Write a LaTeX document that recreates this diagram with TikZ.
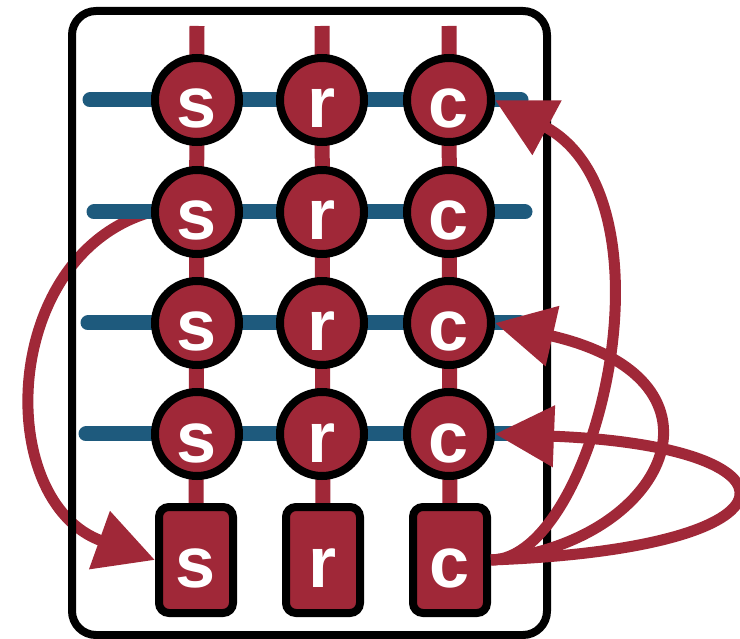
\documentclass[tikz,border=0pt]{standalone}
\usepackage{fontspec}
\setmainfont{Liberation Sans}
\usetikzlibrary{arrows.meta}
\definecolor{myred}{RGB}{160,40,56}
\definecolor{myblue}{RGB}{30,90,125}
\pgfdeclarelayer{bg}
\pgfsetlayers{bg,main}
\begin{document}
\begin{tikzpicture}[x=1pt,y=-1pt,
  letters/.style={text=white, font=\fontsize{72}{72}\selectfont\bfseries},
  cell/.style={circle, draw=black, line width=8pt, fill=myred, minimum size=84pt,
    inner sep=0pt, letters, text height=56pt, text depth=0pt},
  endbox/.style={rectangle, rounded corners=10pt, draw=black, line width=8pt, fill=myred,
    minimum width=74pt, minimum height=106pt, inner sep=0pt, letters,
    text height=54pt, text depth=0pt},
  wire/.style={myred, line width=15pt},
  bus/.style={myblue, line width=15pt, line cap=round},
  link/.style={myred, line width=11pt, -{Triangle[length=59pt,width=59pt]}},
  frame/.style={draw=black, line width=8pt, rounded corners=24pt}
]
\useasboundingbox (0,0) rectangle (740,639);
\draw[frame] (72,11) rectangle (547,635);

% nodes
\foreach \r/\y in {1/100,2/212,3/323,4/434}{
  \node[cell] (s\r) at (197,\y) {s};
  \node[cell] (r\r) at (322,\y) {r};
  \node[cell] (c\r) at (449,\y) {c};
}
\node[endbox] (sqs) at (196,560) {s};
\node[endbox] (sqr) at (323,560) {r};
\node[endbox] (sqc) at (450,560) {c};

% coordinates
\coordinate (ts) at (197,26);
\coordinate (tr) at (322,26);
\coordinate (tc) at (449,26);
\coordinate (b1l) at (90,100);  \coordinate (b1r) at (521,100);
\coordinate (b2l) at (94,212);  \coordinate (b2r) at (525,212);
\coordinate (b3l) at (88,323);  \coordinate (b3r) at (520,323);
\coordinate (b4l) at (86,434);  \coordinate (b4r) at (515,434);

\begin{pgfonlayer}{bg}
  \draw[wire] (ts) -- (sqs.center);
  \draw[wire] (tr) -- (sqr.center);
  \draw[wire] (tc) -- (sqc.center);
  \draw[link] (s2.west) .. controls (0,255) and (-7,502) .. (sqs.west);
  \draw[bus] (b1l) -- (b1r);
  \draw[bus] (b2l) -- (b2r);
  \draw[bus] (b3l) -- (b3r);
  \draw[bus] (b4l) -- (b4r);
\end{pgfonlayer}

\draw[link] (sqc.east) .. controls (595,560) and (682,200) .. (c1.east);
\draw[link] (sqc.east) .. controls (665,545) and (745,380) .. (c3.east);
\draw[link] (sqc.east) .. controls (815,548) and (810,446) .. (c4.east);
\end{tikzpicture}
\end{document}
